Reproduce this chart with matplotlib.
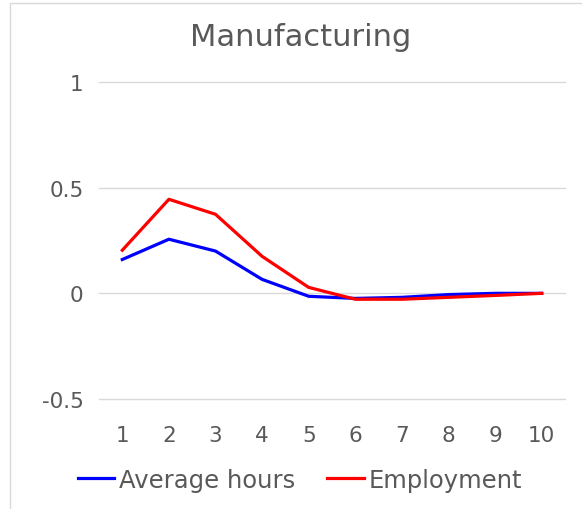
import matplotlib
matplotlib.use("Agg")
import matplotlib.pyplot as plt
from matplotlib.patches import Rectangle

periods = [1, 2, 3, 4, 5, 6, 7, 8, 9, 10]
avg_hours = [0.16, 0.256, 0.20, 0.066, -0.014, -0.024, -0.019, -0.006, 0.0, 0.0]
employment = [0.204, 0.445, 0.374, 0.175, 0.028, -0.028, -0.028, -0.019, -0.01, 0.0]
y_ticks = [-0.5, 0, 0.5, 1]
y_labels = ["-0.5", "0", "0.5", "1"]

plt.rcParams["font.family"] = ["DejaVu Sans"]
gray = "#595959"

fig = plt.figure(figsize=(5.82, 5.10), dpi=100)
fig.patches.append(Rectangle((10 / 582, -0.1), 1.2, 1 - 4 / 510 + 0.1,
                             transform=fig.transFigure, fill=False,
                             edgecolor="#d9d9d9", linewidth=1))

ax = fig.add_axes([99 / 582, 1 - 400 / 510, 466 / 582, 317 / 510])
ax.plot(periods, avg_hours, color="#0000ff", lw=2.3, label="Average hours",
        solid_joinstyle="round")
ax.plot(periods, employment, color="#ff0000", lw=2.3, label="Employment",
        solid_joinstyle="round")

ax.set_xlim(0.5, 10.5)
ax.set_ylim(-0.5, 1)
ax.set_yticks(y_ticks, y_labels)
ax.set_xticks(periods, [str(p) for p in periods])
ax.grid(axis="y", color="#d9d9d9", lw=1)
for gl in ax.get_ygridlines():
    gl.set_clip_on(False)
ax.set_axisbelow(True)
for s in ax.spines.values():
    s.set_visible(False)
ax.tick_params(axis="both", length=0, labelsize=15.5, labelcolor=gray)
ax.tick_params(axis="y", pad=11)
ax.tick_params(axis="x", pad=19)

fig.text(301 / 582, 1 - 37 / 510, "Manufacturing", ha="center", va="center",
         fontsize=22, color=gray)

fig.legend(loc="center", bbox_to_anchor=(300 / 582, 1 - 481 / 510), ncol=2,
           frameon=False, fontsize=17.5, labelcolor=gray, handlelength=1.5,
           handletextpad=0.2, columnspacing=1.3)

fig.savefig("out.png", dpi=100)
